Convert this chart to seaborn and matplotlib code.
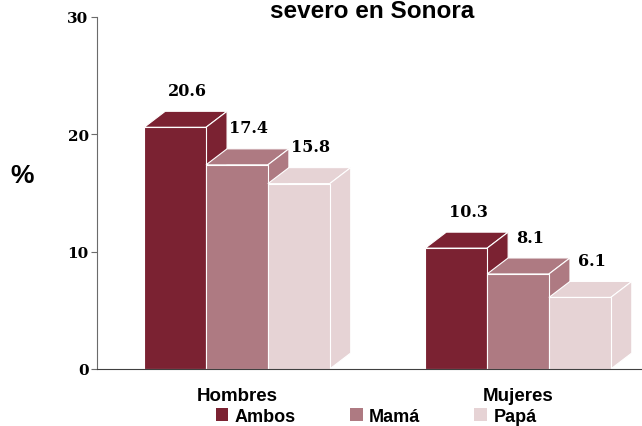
import matplotlib
matplotlib.use("Agg")
import matplotlib.pyplot as plt
import pandas as pd
import seaborn as sns
from matplotlib.patches import Polygon, Patch

groups = ["Hombres", "Mujeres"]
series = ["Ambos", "Mamá", "Papá"]
ambos = [20.6, 10.3]
mama = [17.4, 8.1]
papa = [15.8, 6.1]
colors = ["#7B2232", "#AE7A82", "#E6D3D5"]

df = pd.DataFrame({
    "grupo": groups * 3,
    "quien": [s for s in series for _ in groups],
    "pct": ambos + mama + papa,
})

sns.set_style("white")
plt.rcParams["font.family"] = ["Liberation Sans", "DejaVu Sans"]
plt.rcParams["text.color"] = "black"
plt.rcParams["xtick.color"] = "black"
plt.rcParams["ytick.color"] = "black"

fig = plt.figure(figsize=(6.42, 4.27), dpi=100)
ax = fig.add_axes([97 / 642, 57 / 427, 545 / 642, 352 / 427])

sns.barplot(data=df, x="grupo", y="pct", hue="quien", palette=colors, width=0.66,
            saturation=1, errorbar=None, legend=False, edgecolor="white",
            linewidth=0.8, ax=ax)

ax.set_xlim(-0.498, 1.441)
ax.set_ylim(0, 30)
ax.set_yticks([0, 10, 20, 30])
ax.set_xlabel("")
ax.set_ylabel("")

# fake 3d: top and side faces for every bar
bb = ax.get_window_extent()
dx = 21 / bb.width * (1.441 + 0.498)
dy = 16 / bb.height * 30
bars = sorted(ax.patches, key=lambda p: p.get_x())
for i, p in enumerate(bars):
    x0, w, h = p.get_x(), p.get_width(), p.get_height()
    x1 = x0 + w
    col = p.get_facecolor()
    top = Polygon([(x0, h), (x0 + dx, h + dy), (x1 + dx, h + dy), (x1, h)],
                  facecolor=col, edgecolor="white", lw=0.8, zorder=2 + 2 * i, clip_on=False)
    side = Polygon([(x1, 0), (x1, h), (x1 + dx, h + dy), (x1 + dx, dy)],
                   facecolor=col, edgecolor="white", lw=0.8, zorder=2 + 2 * i, clip_on=False)
    ax.add_patch(top)
    ax.add_patch(side)
    p.set_zorder(3 + 2 * i)
    ax.annotate(f"{h:.1f}", (x0 + w / 2, h), xytext=(8.6, 26.6), textcoords="offset points",
                ha="center", va="center", fontfamily="DejaVu Serif", fontweight="bold",
                fontsize=11.5, color="black", zorder=50)

sns.despine(ax=ax)
ax.spines["left"].set_color("#6b6b6b")
ax.spines["bottom"].set_color("#404040")
ax.spines["bottom"].set_zorder(60)
ax.tick_params(axis="y", left=True, length=4, color="#6b6b6b", labelcolor="black", pad=2)
ax.tick_params(axis="x", length=0, pad=13, labelcolor="black")
for t in ax.get_yticklabels():
    t.set_fontfamily("DejaVu Serif")
    t.set_fontweight("bold")
    t.set_fontsize(11)
for t in ax.get_xticklabels():
    t.set_fontweight("bold")
    t.set_fontsize(13.5)

fig.text(22 / 642, 1 - 176 / 427, "%", ha="center", va="center", fontsize=19, fontweight="bold")
fig.text(0.58, 1 - 18 / 427, "severo en Sonora", ha="center", va="baseline",
         fontsize=17.5, fontweight="bold")

handles = [Patch(facecolor=c, edgecolor="none") for c in colors]
fig.legend(handles, series, loc="center", bbox_to_anchor=(0.586, 0.022), ncol=3, frameon=False,
           prop={"weight": "bold", "size": 13}, handlelength=0.7, handleheight=0.7,
           handletextpad=0.35, columnspacing=3.0, borderpad=0, borderaxespad=0)

fig.savefig("out.png", dpi=100)
